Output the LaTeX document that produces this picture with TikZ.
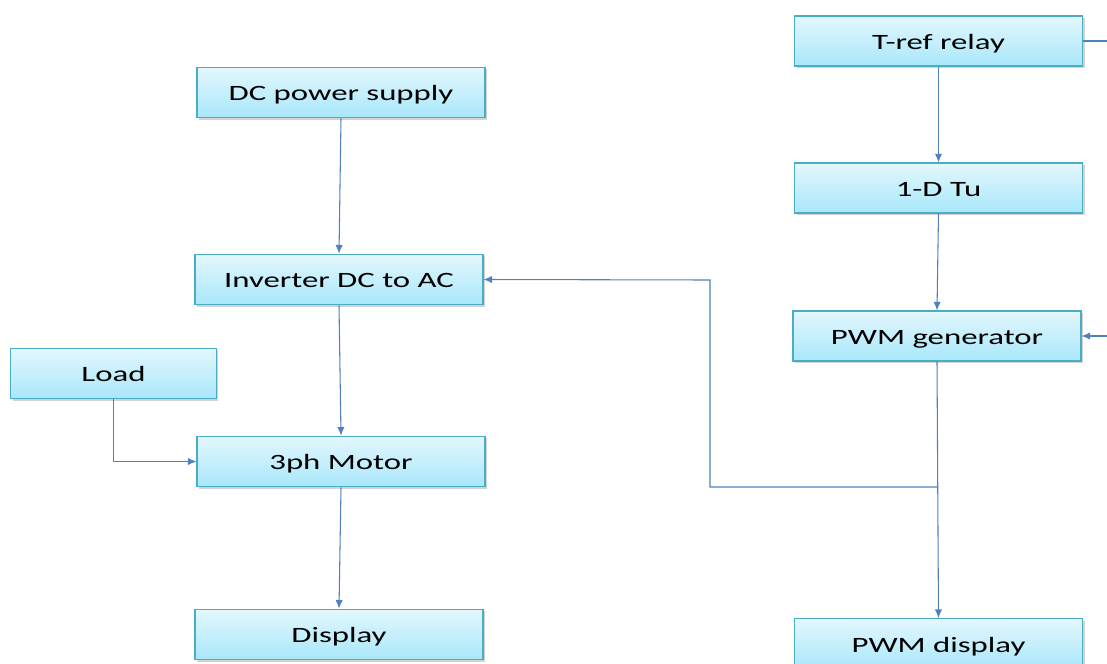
\documentclass[tikz,border=0pt]{standalone}
\usepackage{fontspec}
\setmainfont{Carlito}
\newfontfamily\boxfont[FakeStretch=1.5]{Carlito}
\usetikzlibrary{arrows.meta,shadows}
\definecolor{boxtop}{HTML}{E3F7FD}
\definecolor{boxbot}{HTML}{A8E7FA}
\definecolor{boxline}{HTML}{4BACC6}
\definecolor{linkc}{HTML}{4F81BD}
\tikzset{
  blk/.style={draw=boxline, line width=0.8pt, top color=boxtop, bottom color=boxbot,
    minimum width=216pt, minimum height=38pt, inner sep=0pt,
    font=\boxfont\fontsize{16.4}{19}\selectfont, text height=14.7pt, text depth=2pt,
    drop shadow={shadow xshift=1.5pt, shadow yshift=-1.5pt, opacity=0.35, fill=gray}},
  lnk/.style={draw=linkc, line width=0.8pt},
  arr/.style={lnk, -{Latex[length=6.5pt,width=5.5pt]}}
}
\begin{document}
\begin{tikzpicture}[x=0.75pt,y=-0.75pt]
\useasboundingbox (0,0) rectangle (1107,664);
\node[blk] (dc) at (341,92.5) {DC power supply};
\node[blk] (inv) at (339,279.5) {Inverter DC to AC};
\node[blk, minimum width=154pt] (load) at (113.5,373.5) {Load};
\node[blk] (mot) at (341,461.5) {3ph Motor};
\node[blk] (disp) at (339,634.5) {Display};
\node[blk, minimum height=37.5pt] (tref) at (938.5,41) {T-ref relay};
\node[blk, minimum height=37.5pt] (tu) at (938.5,188) {1-D Tu};
\node[blk, minimum height=37.5pt] (pwm) at (937,336) {PWM generator};
\node[blk, minimum height=38pt] (pwmd) at (938.5,644) {PWM display};
\coordinate (e1) at (1107,41);
\coordinate (e2) at (1107,336);
\coordinate (j) at (937,487);
\coordinate (k) at (710,487);
\coordinate (m) at (710,280);
\draw[arr] (dc.south) -- (inv.north);
\draw[arr] (inv.south) -- (mot.north);
\draw[arr] (mot.south) -- (disp.north);
\draw[arr] (load.south) |- (mot.west);
\draw[lnk] (tref.east) -- (e1);
\draw[arr] (tref.south) -- (tu.north);
\draw[arr] (tu.south) -- (pwm.north);
\draw[arr] (e2) -- (pwm.east);
\draw[arr] (pwm.south) -- (pwmd.north);
\draw[arr] (j) -- (k) -- (m) -- (inv.east);
\end{tikzpicture}
\end{document}
